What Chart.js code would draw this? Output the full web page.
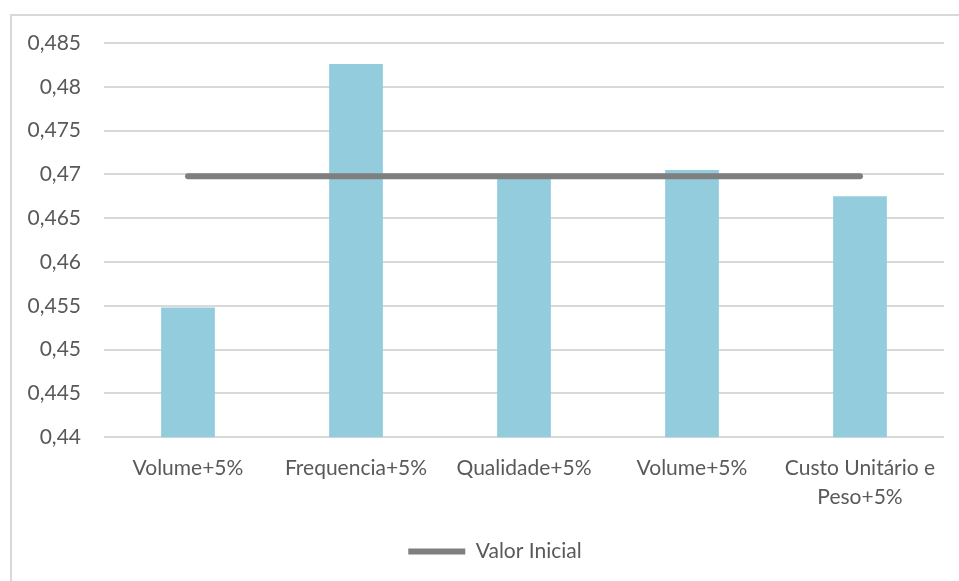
<!DOCTYPE html>
<html>
<head>
<meta charset="utf-8">
<script src="https://cdn.jsdelivr.net/npm/chart.js@4/dist/chart.umd.min.js"></script>
<style>
  html, body { margin: 0; padding: 0; background: #ffffff; }
  #wrap { position: relative; width: 959px; height: 581px; overflow: hidden; }
  #frame { position: absolute; left: 10px; top: 14px; width: 960px; height: 600px;
           border-left: 2px solid #d9d9d9; border-top: 2px solid #d9d9d9; box-sizing: border-box; }
  canvas { position: absolute; left: 0; top: 0; }
</style>
</head>
<body>
<div id="wrap">
  <div id="frame"></div>
  <canvas id="chart" width="959" height="581"></canvas>
</div>
<script>
// Scenario labels along the x axis
const categories = [
  'Volume+5%',
  'Frequencia+5%',
  'Qualidade+5%',
  'Volume+5%',
  ['Custo Unitário e', 'Peso+5%']
];

// Result for each +5% scenario
const scenarioValues = [0.4548, 0.4826, 0.4696, 0.4705, 0.4675];

// Reference level ("Valor Inicial"), constant across scenarios
const initialValue = 0.4698;
const initialLine = categories.map(() => initialValue);

// Y axis range and step
const yMin = 0.44;
const yMax = 0.485;
const yStep = 0.005;

const textColor = '#595959';
const gridColor = '#d9d9d9';
const barColor = '#93cddd';
const lineColor = '#7f7f7f';
const fontFamily = 'Lato, "Open Sans", sans-serif';

const fmt = v => {
  const r = Math.round(v * 1000) / 1000;
  return r.toString().replace('.', ',');
};

// Centre the legend under the whole frame rather than under the plot box
const legendShift = {
  id: 'legendShift',
  afterLayout(chart) {
    const lg = chart.legend;
    if (lg) { lg.left += 23; lg.right += 23; }
  }
};

new Chart(document.getElementById('chart'), {
  data: {
    labels: categories,
    datasets: [
      {
        type: 'line',
        label: 'Valor Inicial',
        data: initialLine,
        borderColor: lineColor,
        backgroundColor: lineColor,
        borderWidth: 6,
        borderCapStyle: 'round',
        pointRadius: 0,
        order: 0
      },
      {
        type: 'bar',
        label: 'Cenário',
        data: scenarioValues,
        backgroundColor: barColor,
        borderWidth: 0,
        categoryPercentage: 1,
        barPercentage: 0.32,
        order: 1
      }
    ]
  },
  plugins: [legendShift],
  options: {
    responsive: false,
    animation: false,
    layout: { padding: { left: 0, right: 15, top: 43, bottom: 9 } },
    plugins: {
      tooltip: { enabled: false },
      legend: {
        position: 'bottom',
        labels: {
          color: textColor,
          font: { family: fontFamily, size: 21 },
          boxWidth: 57,
          boxHeight: 6,
          useBorderRadius: true,
          borderRadius: 3,
          padding: 13,
          generateLabels: chart => [{
            text: 'Valor Inicial',
            fillStyle: lineColor,
            strokeStyle: lineColor,
            lineWidth: 0,
            datasetIndex: 0,
            fontColor: textColor
          }]
        }
      }
    },
    scales: {
      x: {
        grid: { display: false, drawTicks: false },
        border: { display: false },
        ticks: {
          color: textColor,
          font: { family: fontFamily, size: 21, lineHeight: 1.35 },
          padding: 17,
          maxRotation: 0,
          autoSkip: false
        }
      },
      y: {
        min: yMin,
        max: yMax,
        afterFit: scale => { scale.width = 104; },
        grid: { color: gridColor, lineWidth: 2, drawTicks: false },
        border: { display: false },
        ticks: {
          stepSize: yStep,
          color: textColor,
          font: { family: fontFamily, size: 21 },
          padding: 23,
          callback: v => fmt(v)
        }
      }
    }
  }
});
</script>
</body>
</html>
